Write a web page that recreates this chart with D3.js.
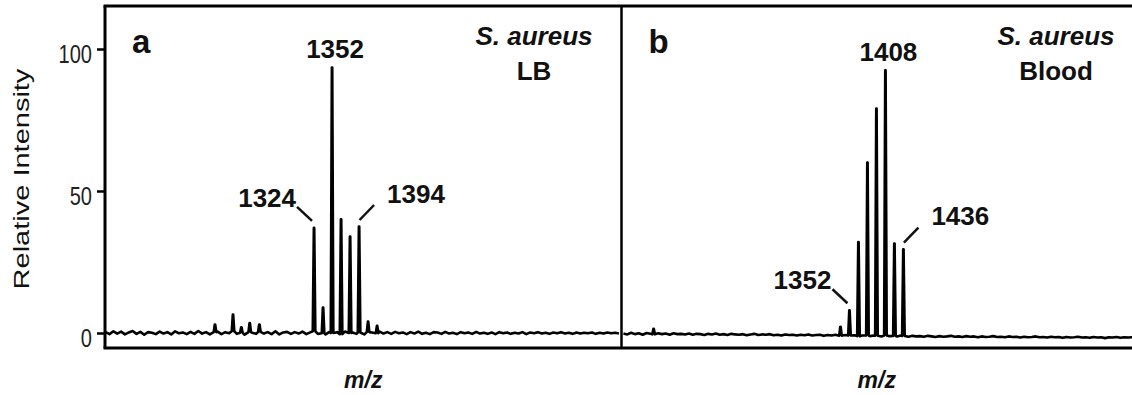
<!DOCTYPE html>
<html><head><meta charset="utf-8">
<script src="https://cdn.jsdelivr.net/npm/d3@7"></script>
<style>body{margin:0;background:#fff} svg{display:block}</style>
</head><body><svg id="c" width="1132" height="395"></svg>
<script>
// ---------------- data ----------------
const yTicks = [0, 50, 100];
const yTickLabels = ["0", "50", "100"];
const panelLetters = ["a", "b"];
const speciesLabels = ["S. aureus", "S. aureus"];
const mediumLabels = ["LB", "Blood"];
const xAxisLabel = "m/z";
const yAxisLabel = "Relative Intensity";

// panel a (LB) peaks: m/z and relative intensity
const peakMzA  = [1170, 1198, 1211, 1224, 1239, 1324, 1338, 1352, 1366, 1380, 1394, 1408, 1422];
const peakIntA = [3, 6.5, 2, 3.5, 3, 37, 9, 93.5, 40, 34, 37.5, 4, 2.5];
// panel b (Blood) peaks
const peakMzB  = [1047, 1338, 1352, 1366, 1380, 1394, 1408, 1422, 1436];
const peakIntB = [1.5, 2.2, 8, 32, 60, 79, 92.5, 31.5, 29.5];

// annotated peaks
const annotMzA = [1324, 1352, 1394];
const annotMzB = [1352, 1408, 1436];

// baseline noise, sampled every 6 m/z from 1000
const noiseA = [
0.3,-0.4,0.6,-0.2,0.5,-0.5,0.2,0.7,-0.3,0.4,-0.6,0.3,0.1,-0.4,0.5,-0.2,0.3,-0.5,0.6,-0.1,
0.2,-0.4,0.4,-0.3,0.7,-0.2,0.3,-0.5,0.2,0.5,-0.4,0.3,-0.1,0.6,-0.3,0.2,-0.6,0.4,0.1,-0.3,
0.5,-0.2,0.3,-0.4,0.6,-0.5,0.2,0.4,-0.3,0.3,-0.2,0.5,-0.4,0.2,0.6,-0.3,0.1,-0.5,0.4,-0.2,
0.3,-0.4,0.5,-0.1,0.2,-0.3,0.4,-0.5,0.3,0.2,-0.4,0.5,-0.2,0.3,-0.3,0.4,-0.1,0.2,-0.4,0.3,
-0.2,0.5,-0.3,0.1,-0.4,0.3,0.2,-0.3,0.4,-0.2,0.1,-0.4,0.3,-0.1,0.2,-0.3,0.4,-0.2,0.1,-0.3,
0.2,-0.4,0.3,-0.1,0.2,-0.3,0.1,-0.2,0.3,-0.4,0.2,-0.1,0.3,-0.2,0.1,-0.3,0.2,-0.1,0.3,-0.2,
0.1,-0.3,0.2,-0.2,0.1,-0.1,0.2,-0.3,0.1,-0.2,0.2,-0.1,0.1,-0.2];
const noiseB = [
-0.2,-0.5,0.1,-0.4,-0.1,-0.6,0.0,-0.3,-0.5,-0.1,-0.4,-0.2,-0.6,-0.1,-0.4,-0.3,-0.5,-0.2,-0.6,-0.3,
-0.4,-0.7,-0.3,-0.5,-0.2,-0.6,-0.4,-0.7,-0.3,-0.5,-0.6,-0.4,-0.8,-0.5,-0.3,-0.7,-0.5,-0.6,-0.4,-0.8,
-0.6,-0.9,-0.5,-0.7,-0.6,-0.9,-0.6,-0.8,-0.5,-0.9,-0.7,-0.6,-1.0,-0.7,-0.9,-0.6,-1.0,-0.8,-0.7,-1.0,
-0.8,-1.1,-0.9,-0.8,-1.1,-0.9,-1.0,-1.2,-0.9,-1.1,-1.0,-1.2,-0.9,-1.1,-1.3,-1.0,-1.2,-1.1,-1.3,-1.0,
-1.2,-1.4,-1.1,-1.3,-1.2,-1.0,-1.3,-1.2,-1.4,-1.1,-1.3,-1.2,-1.5,-1.2,-1.4,-1.3,-1.1,-1.4,-1.3,-1.5,
-1.2,-1.4,-1.3,-1.6,-1.3,-1.5,-1.4,-1.2,-1.5,-1.4,-1.6,-1.3,-1.5,-1.4,-1.7,-1.4,-1.6,-1.5,-1.3,-1.6,
-1.5,-1.7,-1.4,-1.6,-1.5,-1.8,-1.5,-1.6,-1.4,-1.7,-1.5,-1.6,-1.5,-1.7];
const noiseStart = 1000, noiseStep = 6;

// ---------------- layout ----------------
const FONT = "'Liberation Sans', Arial, Helvetica, sans-serif";
const frameTop = 6, frameBottom = 348, frameLeft = 105, frameMid = 621.5, frameRight = 1132;
const svg = d3.select("#c");

const y = d3.scaleLinear().domain([0, 100]).range([333, 49]);

const panels = [
  {x0: frameLeft, x1: frameMid, domain: [999, 1802], peaksMz: peakMzA, peaksInt: peakIntA, noise: noiseA,
   annot: annotMzA, speciesX: 534, letter: panelLetters[0], species: speciesLabels[0], medium: mediumLabels[0],
   annotSides: ["left", "top", "right"]},
  {x0: frameMid, x1: frameRight, domain: [997, 1792], peaksMz: peakMzB, peaksInt: peakIntB, noise: noiseB,
   annot: annotMzB, speciesX: 1056, letter: panelLetters[1], species: speciesLabels[1], medium: mediumLabels[1],
   annotSides: ["left", "top", "right"]}
];

const defs = svg.append("defs");

panels.forEach((p, pi) => {
  const x = d3.scaleLinear().domain(p.domain).range([p.x0, p.x1]);
  const noiseMz = p.noise.map((_, i) => noiseStart + i * noiseStep);
  const baseAt = mz => {
    const i = Math.max(0, Math.min(p.noise.length - 2, Math.floor((mz - noiseStart) / noiseStep)));
    const t = (mz - noiseMz[i]) / noiseStep;
    return p.noise[i] * (1 - t) + p.noise[i + 1] * t;
  };
  const pts = [];
  noiseMz.forEach((mz, i) => {
    if (!p.peaksMz.some(pm => Math.abs(pm - mz) < 2.8)) pts.push([mz, p.noise[i]]);
  });
  p.peaksMz.forEach((pm, i) => {
    const b = baseAt(pm);
    pts.push([pm - 2.0, b]);
    pts.push([pm - 0.3, p.peaksInt[i]]);
    pts.push([pm + 0.3, p.peaksInt[i]]);
    pts.push([pm + 2.0, b]);
  });
  pts.sort((a, b) => a[0] - b[0]);

  defs.append("clipPath").attr("id", "clip" + pi)
    .append("rect").attr("x", p.x0 + 1).attr("y", frameTop).attr("width", p.x1 - p.x0 - 1).attr("height", frameBottom - frameTop);

  svg.append("path")
    .datum(pts)
    .attr("clip-path", `url(#clip${pi})`)
    .attr("fill", "none")
    .attr("stroke", "#000")
    .attr("stroke-width", 2.6)
    .attr("stroke-linejoin", "round")
    .attr("d", d3.line().x(d => x(d[0])).y(d => y(d[1])));

  // annotations
  p.annot.forEach((mz, k) => {
    const idx = p.peaksMz.indexOf(mz);
    const px = x(mz), py = y(p.peaksInt[idx]);
    const side = p.annotSides[k];
    const g = svg.append("g");
    const t = g.append("text").text(String(mz))
      .attr("font-family", FONT).attr("font-weight", "bold").attr("font-size", 26).attr("fill", "#111");
    if (side === "top") {
      t.attr("x", px + 3).attr("y", py - 9).attr("text-anchor", "middle");
    } else if (side === "left") {
      g.append("line").attr("x1", px - 2).attr("y1", py - 7).attr("x2", px - 17).attr("y2", py - 21)
        .attr("stroke", "#111").attr("stroke-width", 2.5);
      t.attr("x", px - 18).attr("y", py - 21).attr("text-anchor", "end");
    } else {
      g.append("line").attr("x1", px + 0.5).attr("y1", py - 6.5).attr("x2", px + 15).attr("y2", py - 21.5)
        .attr("stroke", "#111").attr("stroke-width", 2.5);
      t.attr("x", px + 28).attr("y", py - 24).attr("text-anchor", "start");
    }
  });

  // panel letter
  svg.append("text").text(p.letter).attr("x", p.x0 + 27).attr("y", 53)
    .attr("font-family", FONT).attr("font-weight", "bold").attr("font-size", 33).attr("fill", "#111");
  // species & medium
  svg.append("text").text(p.species).attr("x", p.speciesX).attr("y", 45).attr("text-anchor", "middle")
    .attr("font-family", FONT).attr("font-weight", "bold").attr("font-style", "italic").attr("font-size", 26).attr("fill", "#111");
  svg.append("text").text(p.medium).attr("x", p.speciesX).attr("y", 79.5).attr("text-anchor", "middle")
    .attr("font-family", FONT).attr("font-weight", "bold").attr("font-size", 26).attr("fill", "#111");
  // x axis label
  svg.append("text").text(xAxisLabel).attr("x", (p.x0 + p.x1) / 2).attr("y", 388).attr("text-anchor", "middle")
    .attr("font-family", FONT).attr("font-weight", "bold").attr("font-style", "italic").attr("font-size", 23).attr("fill", "#111");
});

// frame
const frame = svg.append("g").attr("stroke", "#000").attr("fill", "none");
frame.append("line").attr("x1", frameLeft - 1.5).attr("x2", frameRight).attr("y1", frameTop).attr("y2", frameTop).attr("stroke-width", 3);
frame.append("line").attr("x1", frameLeft - 1.5).attr("x2", frameRight).attr("y1", frameBottom).attr("y2", frameBottom).attr("stroke-width", 3);
frame.append("line").attr("x1", frameLeft).attr("x2", frameLeft).attr("y1", frameTop).attr("y2", frameBottom).attr("stroke-width", 3);
frame.append("line").attr("x1", frameMid).attr("x2", frameMid).attr("y1", frameTop).attr("y2", frameBottom).attr("stroke-width", 2.5);

// y axis
const yAxis = svg.append("g").attr("transform", `translate(${frameLeft},0)`)
  .call(d3.axisLeft(y).tickValues(yTicks).tickFormat((d, i) => yTickLabels[i]).tickSize(8));
yAxis.select(".domain").remove();
yAxis.selectAll(".tick line").attr("stroke", "#000").attr("stroke-width", 2.5);
yAxis.selectAll(".tick text")
  .attr("x", 0).attr("dy", null).attr("y", 0)
  .attr("transform", "translate(-13,13.5) scale(0.77,1)")
  .attr("text-anchor", "end")
  .attr("font-family", FONT).attr("font-size", 26).attr("fill", "#222");

// y axis label
svg.append("text").text(yAxisLabel)
  .attr("transform", "translate(28.5,179) scale(0.74,1) rotate(-90)")
  .attr("text-anchor", "middle")
  .attr("font-family", FONT).attr("font-size", 29).attr("fill", "#111");
</script>
</body></html>
